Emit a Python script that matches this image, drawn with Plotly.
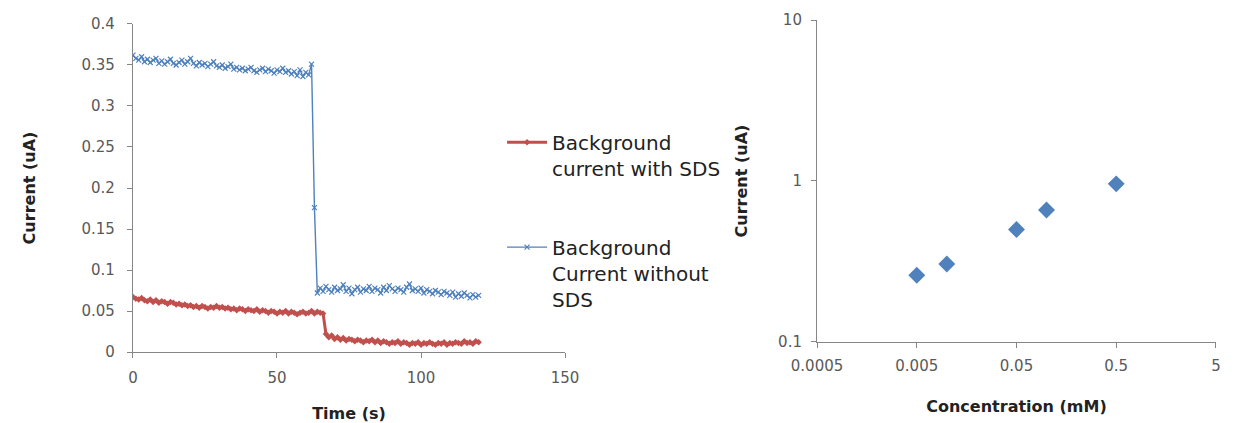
import plotly.graph_objects as go

# ---- Left chart: background current vs time ----
time_s = list(range(0, 121))

current_with_sds = [
    0.067, 0.065, 0.064, 0.066, 0.063, 0.062, 0.064, 0.061, 0.063, 0.060,
    0.062, 0.061, 0.059, 0.061, 0.060, 0.058, 0.059, 0.057, 0.058, 0.056,
    0.057, 0.055, 0.056, 0.054, 0.056, 0.055, 0.053, 0.055, 0.054, 0.056,
    0.054, 0.055, 0.053, 0.054, 0.052, 0.053, 0.051, 0.053, 0.052, 0.050,
    0.052, 0.051, 0.050, 0.052, 0.049, 0.051, 0.050, 0.048, 0.050, 0.049,
    0.047, 0.049, 0.048, 0.050, 0.047, 0.049, 0.048, 0.046, 0.048, 0.049,
    0.047, 0.048, 0.050, 0.047, 0.049, 0.048, 0.047,
    0.022, 0.018, 0.020, 0.016, 0.018, 0.015, 0.017, 0.014, 0.016, 0.015,
    0.013, 0.015, 0.014, 0.012, 0.014, 0.013, 0.015, 0.012, 0.014, 0.011,
    0.013, 0.012, 0.010, 0.012, 0.011, 0.013, 0.010, 0.012, 0.011, 0.009,
    0.011, 0.010, 0.012, 0.009, 0.011, 0.010, 0.012, 0.010, 0.009, 0.011,
    0.010, 0.012, 0.009, 0.011, 0.010, 0.012, 0.011, 0.010, 0.013, 0.011,
    0.012, 0.010, 0.013, 0.012,
]

current_without_sds = [
    0.362, 0.358, 0.356, 0.360, 0.354, 0.357, 0.353, 0.356, 0.358, 0.352,
    0.355, 0.351, 0.354, 0.357, 0.352, 0.350, 0.353, 0.356, 0.351, 0.354,
    0.358, 0.352, 0.349, 0.353, 0.350, 0.352, 0.348, 0.351, 0.354, 0.349,
    0.347, 0.350, 0.346, 0.348, 0.351, 0.345, 0.347, 0.344, 0.346, 0.343,
    0.345, 0.347, 0.343, 0.341, 0.344, 0.346, 0.342, 0.345, 0.343, 0.340,
    0.344, 0.342, 0.346, 0.341, 0.343, 0.339, 0.342, 0.337, 0.344, 0.336,
    0.341, 0.338,
    0.351, 0.176,
    0.072, 0.078, 0.074, 0.080, 0.076, 0.073, 0.079, 0.075, 0.077, 0.082,
    0.074, 0.078, 0.071, 0.076, 0.079, 0.073, 0.077, 0.075, 0.080, 0.074,
    0.078, 0.076, 0.072, 0.079, 0.075, 0.081, 0.077, 0.074, 0.078, 0.076,
    0.073, 0.079, 0.083, 0.075, 0.077, 0.074, 0.078, 0.072, 0.076, 0.074,
    0.071, 0.075, 0.073, 0.070, 0.074, 0.072, 0.069, 0.073, 0.067, 0.071,
    0.068, 0.072, 0.069, 0.066, 0.070, 0.067, 0.069,
]

left_y_ticks = [0, 0.05, 0.1, 0.15, 0.2, 0.25, 0.3, 0.35, 0.4]
left_y_ticktext = ["0", "0.05", "0.1", "0.15", "0.2", "0.25", "0.3", "0.35", "0.4"]
left_x_ticks = [0, 50, 100, 150]

# ---- Right chart: current vs concentration (log-log) ----
concentration_mM = [0.005, 0.01, 0.05, 0.1, 0.5]
current_uA = [0.26, 0.305, 0.50, 0.66, 0.96]

right_x_ticks = [0.0005, 0.005, 0.05, 0.5, 5]
right_x_ticktext = ["0.0005", "0.005", "0.05", "0.5", "5"]
right_y_ticks = [0.1, 1, 10]
right_y_ticktext = ["0.1", "1", "10"]

RED = "#C0504D"
BLUE = "#4F81BD"
AXIS = "#868686"
TICKFONT = dict(family="DejaVu Sans", size=15, color="#595959")
TITLEFONT = dict(family="DejaVu Sans", size=16, color="#222222")

fig = go.Figure()

fig.add_trace(go.Scatter(
    x=time_s, y=current_with_sds, mode="lines+markers",
    name="Background<br>current with SDS", legendgroup="a",
    line=dict(color=RED, width=3),
    marker=dict(symbol="diamond", size=5, color=RED),
    xaxis="x", yaxis="y",
))
fig.add_trace(go.Scatter(
    x=time_s, y=current_without_sds, mode="lines+markers",
    name="Background<br>Current without<br>SDS", legendgroup="b",
    line=dict(color=BLUE, width=1.4),
    marker=dict(symbol="x-thin", size=5, color=BLUE, line=dict(color=BLUE, width=1.2)),
    xaxis="x", yaxis="y",
))
fig.add_trace(go.Scatter(
    x=concentration_mM, y=current_uA, mode="markers",
    showlegend=False,
    marker=dict(symbol="diamond", size=13, color=BLUE),
    xaxis="x2", yaxis="y2",
))

axis_common = dict(
    showgrid=False, zeroline=False, showline=True, linecolor=AXIS, linewidth=1.2,
    ticks="outside", tickcolor=AXIS, ticklen=5, tickwidth=1, tickfont=TICKFONT,
    automargin=False,
)

fig.update_layout(
    width=1252, height=423,
    margin=dict(l=0, r=0, t=0, b=0),
    paper_bgcolor="white", plot_bgcolor="white",
    font=dict(family="DejaVu Sans"),
    xaxis=dict(domain=[0.1062, 0.4513], range=[0, 150], tickvals=left_x_ticks,
               ticklabelstandoff=7,
               title=dict(text="<b>Time (s)</b>", font=TITLEFONT, standoff=22),
               anchor="y", **axis_common),
    yaxis=dict(domain=[0.1678, 0.9433], range=[0, 0.4], tickvals=left_y_ticks,
               ticktext=left_y_ticktext, ticklabelstandoff=9,
               title=dict(text="<b>Current (uA)</b>", font=TITLEFONT, standoff=41),
               anchor="x", **axis_common),
    xaxis2=dict(domain=[0.6526, 0.9712], type="log", range=[-3.30103, 0.69897],
                tickvals=right_x_ticks, ticktext=right_x_ticktext, ticklabelstandoff=5,
                title=dict(text="<b>Concentration (mM)</b>", font=TITLEFONT, standoff=26),
                anchor="y2", **axis_common),
    yaxis2=dict(domain=[0.1915, 0.9527], type="log", range=[-1, 1],
                tickvals=right_y_ticks, ticktext=right_y_ticktext, ticklabelstandoff=6,
                title=dict(text="<b>Current (uA)</b>", font=TITLEFONT, standoff=26),
                anchor="x2", **axis_common),
    legend=dict(
        x=0.401, y=0.71, xanchor="left", yanchor="top",
        font=dict(family="DejaVu Sans", size=20, color="#222222"),
        tracegroupgap=50, valign="top", bgcolor="rgba(0,0,0,0)",
        itemwidth=40,
    ),
    showlegend=True,
)

fig.write_html("out.html")
